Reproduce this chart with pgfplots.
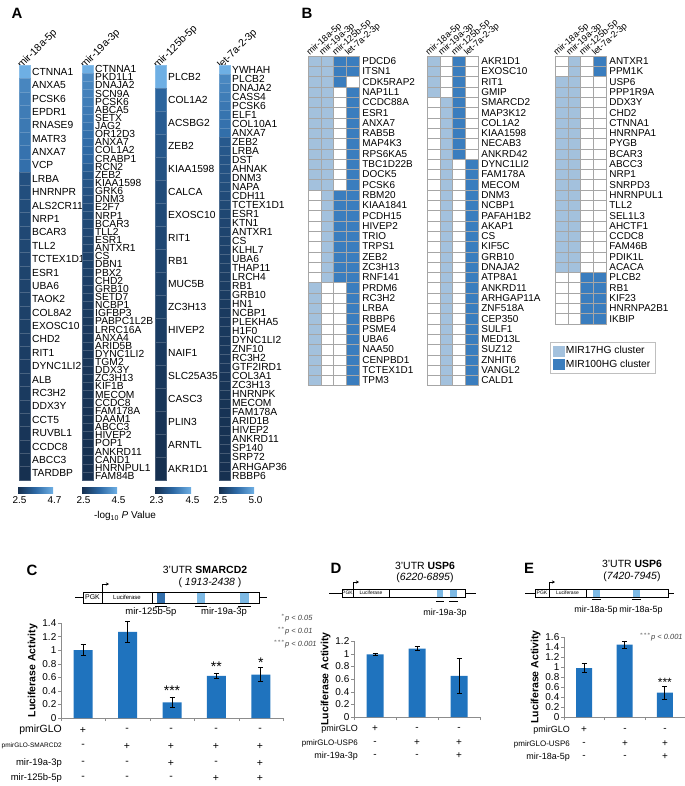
\documentclass[border=0pt]{standalone}
\usepackage{fontspec}
\setmainfont{Liberation Sans}
\usepackage{pgfplots}
\usepackage{pgfplotstable}
\pgfplotsset{compat=1.18}
\usetikzlibrary{arrows.meta}

\definecolor{barblue}{RGB}{31,115,190}
\definecolor{cllight}{RGB}{163,193,221}
\definecolor{cldark}{RGB}{58,125,190}
\definecolor{hmdark}{RGB}{22,48,80}
\definecolor{hmmid}{RGB}{45,105,165}
\definecolor{hmlight}{RGB}{110,175,228}
\definecolor{sitelight}{RGB}{125,185,228}
\definecolor{sitedark}{RGB}{50,110,170}

\newcommand{\fs}[1]{\fontsize{#1}{#1}\selectfont}

% panel A: -log10 P values, one table per miRNA (row r, top row first)
\pgfplotstableread{
r v
1 4.7
2 4.05
3 3.95
4 3.9
5 3.85
6 3.8
7 3.75
8 3.7
9 3.12
10 3.08
11 3.04
12 3.0
13 2.97
14 2.94
15 2.91
16 2.88
17 2.86
18 2.84
19 2.82
20 2.8
21 2.78
22 2.76
23 2.74
24 2.72
25 2.69
26 2.66
27 2.63
28 2.6
29 2.56
30 2.53
31 2.5
}\hmA
\pgfplotstableread{
r v
1 4.5
2 3.95
3 3.9
4 3.85
5 3.8
6 3.75
7 3.7
8 3.65
9 3.6
10 3.55
11 3.5
12 3.45
13 3.3
14 3.2
15 3.15
16 3.1
17 3.05
18 3.0
19 2.97
20 2.94
21 2.91
22 2.88
23 2.85
24 2.83
25 2.81
26 2.79
27 2.77
28 2.75
29 2.73
30 2.71
31 2.69
32 2.67
33 2.66
34 2.65
35 2.64
36 2.63
37 2.62
38 2.61
39 2.6
40 2.59
41 2.58
42 2.57
43 2.56
44 2.55
45 2.54
46 2.53
47 2.52
48 2.51
49 2.51
50 2.5
51 2.5
}\hmB
\pgfplotstableread{
r v
1 4.5
2 3.3
3 3.15
4 3.05
5 2.95
6 2.85
7 2.8
8 2.75
9 2.7
10 2.65
11 2.6
12 2.55
13 2.5
14 2.46
15 2.42
16 2.38
17 2.34
18 2.3
}\hmC
\pgfplotstableread{
r v
1 5.0
2 4.3
3 4.2
4 4.1
5 4.0
6 3.95
7 3.9
8 3.85
9 3.4
10 3.35
11 3.3
12 3.25
13 3.2
14 3.15
15 3.1
16 3.05
17 3.0
18 2.97
19 2.94
20 2.91
21 2.88
22 2.85
23 2.82
24 2.8
25 2.78
26 2.76
27 2.74
28 2.72
29 2.7
30 2.69
31 2.68
32 2.67
33 2.66
34 2.64
35 2.62
36 2.6
37 2.59
38 2.58
39 2.57
40 2.56
41 2.55
42 2.54
43 2.53
44 2.52
45 2.51
46 2.5
}\hmD

% panel B: 0 none, 1 MIR17HG cluster, 2 MIR100HG cluster
\pgfplotstableread{
r a b c d
1 1 1 2 2
2 1 1 2 2
3 1 1 2 0
4 1 1 0 2
5 1 1 0 2
6 1 1 0 2
7 1 1 0 2
8 1 1 0 2
9 1 1 0 2
10 1 1 0 2
11 1 1 0 2
12 1 1 0 2
13 1 1 0 2
14 0 1 2 2
15 0 1 2 2
16 0 1 2 2
17 0 1 2 2
18 0 1 2 2
19 0 1 2 2
20 0 1 2 2
21 0 1 2 2
22 0 1 2 2
23 1 0 0 2
24 1 0 0 2
25 1 0 0 2
26 1 0 0 2
27 1 0 0 2
28 1 0 0 2
29 1 0 0 2
30 1 0 0 2
31 1 0 0 2
32 1 0 0 2
}\gridA
\pgfplotstableread{
r a b c d
1 1 0 2 0
2 1 0 2 0
3 1 0 2 0
4 1 0 2 0
5 0 1 2 0
6 0 1 2 0
7 0 1 2 0
8 0 1 2 0
9 0 1 2 0
10 0 1 2 0
11 0 1 0 2
12 0 1 0 2
13 0 1 0 2
14 0 1 0 2
15 0 1 0 2
16 0 1 0 2
17 0 1 0 2
18 0 1 0 2
19 0 1 0 2
20 0 1 0 2
21 0 1 0 2
22 0 1 0 2
23 0 1 0 2
24 0 1 0 2
25 0 1 0 2
26 0 1 0 2
27 0 1 0 2
28 0 1 0 2
29 0 1 0 2
30 0 1 0 2
31 0 1 0 2
32 0 1 0 2
}\gridB
\pgfplotstableread{
r a b c d
1 0 1 0 2
2 0 1 0 2
3 1 1 0 0
4 1 1 0 0
5 1 1 0 0
6 1 1 0 0
7 1 1 0 0
8 1 1 0 0
9 1 1 0 0
10 1 1 0 0
11 1 1 0 0
12 1 1 0 0
13 1 1 0 0
14 1 1 0 0
15 1 1 0 0
16 1 1 0 0
17 1 1 0 0
18 1 1 0 0
19 1 1 0 0
20 1 1 0 0
21 1 1 0 0
22 0 0 2 2
23 0 0 2 2
24 0 0 2 2
25 0 0 2 2
26 0 0 2 2
}\gridC

\pgfplotsset{
  hmcol/.style={scale only axis, width=11bp, xmin=-0.5, xmax=0.5,
    y dir=reverse, clip=false, axis line style={draw=none},
    major tick length=0pt, yticklabel pos=right,
    yticklabel style={font=\fs{10.3}, anchor=west, inner sep=0pt, xshift=2bp},
    xtick={0}, xticklabel pos=upper,
    xticklabel style={font=\fs{10.5}, rotate=45, anchor=south west, inner sep=0pt, xshift=-5bp, yshift=-3bp},
    colormap={heat}{rgb255=(22,48,80) rgb255=(45,105,165) rgb255=(110,175,228)}},
  hmcell/.style={scatter, only marks, mark=square*, point meta=explicit,
    scatter/use mapped color={draw=mapped color!80!white, fill=mapped color}},
  bgrid/.style={scale only axis, width=51.2bp, xmin=0.5, xmax=4.5,
    y dir=reverse, clip=false, axis line style={draw=none},
    major tick length=0pt, ytick={1,...,40}, yticklabel pos=right,
    yticklabel style={font=\fs{10}, anchor=west, inner sep=0pt, xshift=3bp},
    xtick={1,2,3,4}, xticklabel pos=upper,
    xticklabels={mir-18a-5p,mir-19a-3p,mir-125b-5p,let-7a-2-3p},
    xticklabel style={font=\fs{9}, rotate=42, anchor=south west, inner sep=0pt, yshift=1bp, xshift=-3.5bp},
    point meta min=0, point meta max=2,
    colormap={bin}{rgb255=(255,255,255) rgb255=(163,193,221) rgb255=(58,125,190)}},
  bcell/.style={scatter, only marks, mark=square*, point meta=explicit,
    mark size=6.4bp, mark options={yscale=0.805, line width=0.4bp},
    scatter/use mapped color={draw=black!35, fill=mapped color}},
  barax/.style={scale only axis, axis x line=bottom, axis y line=left,
    axis line style={black!45, -}, tick style={black!45}, tick align=outside,
    major tick length=3bp, xticklabels={}, ymin=0, clip=false,
    /pgf/number format/assume math mode=true,
    yticklabel style={font=\fs{10}, inner sep=1.5bp},
    ylabel={Luciferase Activity}, ylabel style={font=\bfseries\fs{10.5}}},
  barplot/.style={ybar, fill=barblue, draw=none,
    error bars/y dir=both, error bars/y explicit,
    error bars/error bar style={black, line width=0.7bp},
    error bars/error mark options={rotate=90, mark size=2.5bp, black, line width=0.7bp}},
}

\begin{document}
\begin{tikzpicture}
\useasboundingbox (0,0) rectangle (685bp,-786bp);

% ---------------- Panel A ----------------
\begin{axis}[hmcol, at={(19bp,-65bp)}, anchor=north west, height=415bp,
  ymin=0.5, ymax=31.5, point meta min=2.5, point meta max=4.7, ytick={1,...,31},
  xticklabels={mir-18a-5p},
  yticklabels={CTNNA1,ANXA5,PCSK6,EPDR1,RNASE9,MATR3,ANXA7,VCP,LRBA,HNRNPR,ALS2CR11,NRP1,BCAR3,TLL2,TCTEX1D1,ESR1,UBA6,TAOK2,COL8A2,EXOSC10,CHD2,RIT1,DYNC1LI2,ALB,RC3H2,DDX3Y,CCT5,RUVBL1,CCDC8,ABCC3,TARDBP}]
\addplot[hmcell, mark size=5.5bp, mark options={yscale=1.217, line width=0.3bp}]
  table[x expr=0, y=r, meta=v] {\hmA};
\end{axis}

\begin{axis}[hmcol, at={(82bp,-65bp)}, anchor=north west, height=415bp,
  ymin=0.5, ymax=51.5, point meta min=2.5, point meta max=4.5, ytick={1,...,51},
  xticklabels={mir-19a-3p},
  yticklabels={CTNNA1,PKD1L1,DNAJA2,SCN9A,PCSK6,ABCA5,SETX,JAG2,OR12D3,ANXA7,COL1A2,CRABP1,RCN2,ZEB2,KIAA1598,GRK6,DNM3,E2F7,NRP1,BCAR3,TLL2,ESR1,ANTXR1,CS,DBN1,PBX2,CHD2,GRB10,SETD7,NCBP1,IGFBP3,PABPC1L2B,LRRC16A,ANXA4,ARID5B,DYNC1LI2,TGM2,DDX3Y,ZC3H13,KIF1B,MECOM,CCDC8,FAM178A,DAAM1,ABCC3,HIVEP2,POP1,ANKRD11,CAND1,HNRNPUL1,FAM84B}]
\addplot[hmcell, mark size=5.5bp, mark options={yscale=0.74, line width=0.3bp}]
  table[x expr=0, y=r, meta=v] {\hmB};
\end{axis}

\begin{axis}[hmcol, at={(155bp,-65bp)}, anchor=north west, height=415bp,
  ymin=0.5, ymax=18.5, point meta min=2.3, point meta max=4.5, ytick={1,...,18},
  xticklabels={mir-125b-5p},
  yticklabels={PLCB2,COL1A2,ACSBG2,ZEB2,KIAA1598,CALCA,EXOSC10,RIT1,RB1,MUC5B,ZC3H13,HIVEP2,NAIF1,SLC25A35,CASC3,PLIN3,ARNTL,AKR1D1}]
\addplot[hmcell, mark size=5.5bp, mark options={yscale=2.096, line width=0.3bp}]
  table[x expr=0, y=r, meta=v] {\hmC};
\end{axis}

\begin{axis}[hmcol, at={(219bp,-65bp)}, anchor=north west, height=415bp,
  ymin=0.5, ymax=46.5, point meta min=2.5, point meta max=5.0, ytick={1,...,46},
  xticklabels={let-7a-2-3p},
  yticklabels={YWHAH,PLCB2,DNAJA2,CASS4,PCSK6,ELF1,COL10A1,ANXA7,ZEB2,LRBA,DST,AHNAK,DNM3,NAPA,CDH11,TCTEX1D1,ESR1,KTN1,ANTXR1,CS,KLHL7,UBA6,THAP11,LRCH4,RB1,GRB10,HN1,NCBP1,PLEKHA5,H1F0,DYNC1LI2,ZNF10,RC3H2,GTF2IRD1,COL3A1,ZC3H13,HNRNPK,MECOM,FAM178A,ARID1B,HIVEP2,ANKRD11,SP140,SRP72,ARHGAP36,RBBP6}]
\addplot[hmcell, mark size=5.5bp, mark options={yscale=0.82, line width=0.3bp}]
  table[x expr=0, y=r, meta=v] {\hmD};
\end{axis}

% ---------------- Panel B ----------------
\begin{axis}[bgrid, at={(308bp,-56bp)}, anchor=north west, height=329.6bp,
  ymin=0.5, ymax=32.5,
  yticklabels={PDCD6,ITSN1,CDK5RAP2,NAP1L1,CCDC88A,ESR1,ANXA7,RAB5B,MAP4K3,RPS6KA5,TBC1D22B,DOCK5,PCSK6,RBM20,KIAA1841,PCDH15,HIVEP2,TRIO,TRPS1,ZEB2,ZC3H13,RNF141,PRDM6,RC3H2,LRBA,RBBP6,PSME4,UBA6,NAA50,CENPBD1,TCTEX1D1,TPM3}]
\addplot[bcell] table[x expr=1, y=r, meta=a] {\gridA};
\addplot[bcell] table[x expr=2, y=r, meta=b] {\gridA};
\addplot[bcell] table[x expr=3, y=r, meta=c] {\gridA};
\addplot[bcell] table[x expr=4, y=r, meta=d] {\gridA};
\end{axis}

\begin{axis}[bgrid, at={(427bp,-56bp)}, anchor=north west, height=329.6bp,
  ymin=0.5, ymax=32.5,
  yticklabels={AKR1D1,EXOSC10,RIT1,GMIP,SMARCD2,MAP3K12,COL1A2,KIAA1598,NECAB3,ANKRD42,DYNC1LI2,FAM178A,MECOM,DNM3,NCBP1,PAFAH1B2,AKAP1,CS,KIF5C,GRB10,DNAJA2,ATP8A1,ANKRD11,ARHGAP11A,ZNF518A,CEP350,SULF1,MED13L,SUZ12,ZNHIT6,VANGL2,CALD1}]
\addplot[bcell] table[x expr=1, y=r, meta=a] {\gridB};
\addplot[bcell] table[x expr=2, y=r, meta=b] {\gridB};
\addplot[bcell] table[x expr=3, y=r, meta=c] {\gridB};
\addplot[bcell] table[x expr=4, y=r, meta=d] {\gridB};
\end{axis}

\begin{axis}[bgrid, at={(555bp,-56bp)}, anchor=north west, height=267.8bp,
  ymin=0.5, ymax=26.5,
  yticklabels={ANTXR1,PPM1K,USP6,PPP1R9A,DDX3Y,CHD2,CTNNA1,HNRNPA1,PYGB,BCAR3,ABCC3,NRP1,SNRPD3,HNRNPUL1,TLL2,SEL1L3,AHCTF1,CCDC8,FAM46B,PDIK1L,ACACA,PLCB2,RB1,KIF23,HNRNPA2B1,IKBIP},
  legend style={at={(-0.1,-0.067)}, anchor=north west, draw=black!25,
    font=\fs{10.3}, inner sep=2.5bp, row sep=0.5bp},
  legend cell align=left]
\addplot[bcell, forget plot] table[x expr=1, y=r, meta=a] {\gridC};
\addplot[bcell, forget plot] table[x expr=2, y=r, meta=b] {\gridC};
\addplot[bcell, forget plot] table[x expr=3, y=r, meta=c] {\gridC};
\addplot[bcell, forget plot] table[x expr=4, y=r, meta=d] {\gridC};
\addlegendimage{legend image code/.code={\fill[cllight] (0bp,-5bp) rectangle (11bp,5bp);}}
\addlegendentry{MIR17HG cluster}
\addlegendimage{legend image code/.code={\fill[cldark] (0bp,-5bp) rectangle (11bp,5bp);}}
\addlegendentry{ MIR100HG cluster}
\end{axis}

% ---------------- Panel C ----------------
\begin{axis}[barax, at={(61bp,-718bp)}, anchor=south west, width=222bp, height=95bp,
  xmin=0.5, xmax=5.5, ymax=1.4, ytick={0,0.2,0.4,0.6,0.8,1,1.2,1.4},
  xtick={0.5,1.5,2.5,3.5,4.5,5.5}]
\addplot[bar width=19bp, barplot] coordinates {
  (1,1.00) +- (0,0.08)
  (2,1.27) +- (0,0.15)
  (3,0.23) +- (0,0.08)
  (4,0.62) +- (0,0.04)
  (5,0.64) +- (0,0.10)};
\node[font=\fs{14}] at (axis cs:3,0.40) {***};
\node[font=\fs{14}] at (axis cs:4,0.76) {**};
\node[font=\fs{14}] at (axis cs:5,0.81) {*};
\end{axis}

% ---------------- Panel D ----------------
\begin{axis}[barax, at={(354bp,-717bp)}, anchor=south west, width=126bp, height=76bp,
  xmin=0.5, xmax=3.5, ymax=1.2, ytick={0,0.2,0.4,0.6,0.8,1,1.2},
  xtick={0.5,1.5,2.5,3.5}]
\addplot[bar width=17bp, barplot] coordinates {
  (1,0.99) +- (0,0.02)
  (2,1.08) +- (0,0.03)
  (3,0.65) +- (0,0.27)};
\end{axis}

% ---------------- Panel E ----------------
\begin{axis}[barax, at={(564bp,-717bp)}, anchor=south west, width=121bp, height=80bp,
  xmin=0.5, xmax=3.5, ymax=1.6, ytick={0,0.2,0.4,0.6,0.8,1,1.2,1.4,1.6},
  xtick={0.5,1.5,2.5,3.5}]
\addplot[bar width=16bp, barplot] coordinates {
  (1,0.98) +- (0,0.09)
  (2,1.45) +- (0,0.07)
  (3,0.49) +- (0,0.13)};
\node[font=\fs{12}] at (axis cs:3,0.70) {***};
\end{axis}

% ---------------- text and schematics ----------------
\begin{scope}[x=1bp, y=-1bp]
  % panel letters
  \node[font=\bfseries\fs{15}] at (17,13) {A};
  \node[font=\bfseries\fs{15}] at (307,13) {B};
  \node[font=\bfseries\fs{15}] at (32,570) {C};
  \node[font=\bfseries\fs{15}] at (336,568) {D};
  \node[font=\bfseries\fs{15}] at (529,568) {E};

  % panel A colour bars
  \foreach \a/\b/\lo/\hi in {18/53/2.5/4.7, 82/117/2.5/4.5, 155/191/2.3/4.5, 219/254/2.5/5.0} {
    \shade[left color=hmdark, right color=hmlight, middle color=hmmid] (\a,487) rectangle (\b,493);
    \node[font=\fs{10}] at (\a+1.5,500) {\lo};
    \node[font=\fs{10}] at (\b+1.5,500) {\hi};
  }
  \node[font=\fs{10}] at (125,516) {-log\textsubscript{10} \textit{P} Value};

  % panel C schematic
  \node[font=\fs{10.5}] at (205,570) {3'UTR \textbf{SMARCD2}};
  \node[font=\fs{10.5}] at (210,583) {( \textit{1913-2438} )};
  \begin{scope}[line width=0.6bp]
    \draw (75,597.5) -- (83,597.5);
    \draw (259,597.5) -- (267,597.5);
    \fill[sitedark] (157,592) rectangle (165,603);
    \fill[sitelight] (197,592) rectangle (205,603);
    \fill[sitelight] (240,592) rectangle (249,603);
    \draw (83,592) rectangle (259,603);
    \draw (102,592) -- (102,603);
    \draw (152,592) -- (152,603);
    \draw[-{Stealth[length=3bp,width=3bp]}] (102,592) -- (102,584) -- (109,584);
    \draw (155,606) -- (167,606);
    \draw (195,606) -- (207,606);
    \draw (238,606) -- (251,606);
  \end{scope}
  \node[font=\fs{7}] at (92.5,597.5) {PGK};
  \node[font=\fs{6}] at (127,597.5) {Luciferase};
  \node[font=\fs{9.5}] at (151,612) {mir-125b-5p};
  \node[font=\fs{9.5}] at (224,612) {mir-19a-3p};
  \node[font=\itshape\fs{7.5}, anchor=base west, inner sep=0pt, text=black!75] at (285,620) {\llap{$^{*}$}p < 0.05};
  \node[font=\itshape\fs{7.5}, anchor=base west, inner sep=0pt, text=black!75] at (285,633) {\llap{$^{**}$}p < 0.01};
  \node[font=\itshape\fs{7.5}, anchor=base west, inner sep=0pt, text=black!75] at (285,646) {\llap{$^{***}$}p < 0.001};

  % panel C conditions
  \node[font=\fs{10.5}, anchor=east, inner sep=0pt] at (62,730) {pmirGLO};
  \node[font=\fs{6.5}, anchor=east, inner sep=0pt] at (62,746) {pmirGLO-SMARCD2};
  \node[font=\fs{9.5}, anchor=east, inner sep=0pt] at (62,763) {mir-19a-3p};
  \node[font=\fs{9.5}, anchor=east, inner sep=0pt] at (62,778) {mir-125b-5p};
  \foreach \x/\a/\b/\c/\d in {83/+/-/-/-, 127/-/+/-/-, 171/-/+/+/-, 216/-/+/-/+, 260/-/+/+/+} {
    \node[font=\fs{10.5}] at (\x,730) {\a};
    \node[font=\fs{10.5}] at (\x,746) {\b};
    \node[font=\fs{10.5}] at (\x,763) {\c};
    \node[font=\fs{10.5}] at (\x,778) {\d};
  }

  % panel D schematic
  \node[font=\fs{10.5}] at (425,566) {3'UTR \textbf{USP6}};
  \node[font=\fs{10.5}] at (425,578) {(\textit{6220-6895})};
  \begin{scope}[line width=0.6bp]
    \draw (329,593) -- (342,593);
    \draw (465,593) -- (476,593);
    \fill[sitelight] (437,589) rectangle (443,597);
    \fill[sitelight] (450,589) rectangle (457,597);
    \draw (342,589) rectangle (465,597);
    \draw (353,589) -- (353,597);
    \draw (389,589) -- (389,597);
    \draw[-{Stealth[length=3bp,width=3bp]}] (353,589) -- (353,582) -- (359,582);
    \draw (436,601) -- (444,601);
    \draw (449,601) -- (458,601);
  \end{scope}
  \node[font=\fs{5}] at (347.5,593) {PGK};
  \node[font=\fs{5}] at (371,593) {Luciferase};
  \node[font=\fs{9}] at (445,613) {mir-19a-3p};
  \node[font=\fs{9}, anchor=east, inner sep=0pt] at (358,729) {pmirGLO};
  \node[font=\fs{8}, anchor=east, inner sep=0pt] at (358,743) {pmirGLO-USP6};
  \node[font=\fs{9}, anchor=east, inner sep=0pt] at (358,756) {mir-19a-3p};
  \foreach \x/\a/\b/\c in {375/+/-/-, 417/-/+/-, 459/-/+/+} {
    \node[font=\fs{10}] at (\x,729) {\a};
    \node[font=\fs{10}] at (\x,743) {\b};
    \node[font=\fs{10}] at (\x,756) {\c};
  }

  % panel E schematic
  \node[font=\fs{10.5}] at (632,564) {3'UTR \textbf{USP6}};
  \node[font=\fs{10.5}] at (632,577) {(\textit{7420-7945})};
  \begin{scope}[line width=0.6bp]
    \draw (525,593) -- (535,593);
    \draw (668,593) -- (674,593);
    \fill[sitelight] (593,589) rectangle (600,597);
    \fill[sitelight] (633,589) rectangle (640,597);
    \draw (535,589) rectangle (668,597);
    \draw (549,589) -- (549,597);
    \draw (586,589) -- (586,597);
    \draw[-{Stealth[length=3bp,width=3bp]}] (549,589) -- (549,582) -- (555,582);
    \draw (592,599.5) -- (601,599.5);
    \draw (632,599.5) -- (641,599.5);
  \end{scope}
  \node[font=\fs{5}] at (542,593) {PGK};
  \node[font=\fs{5}] at (567.5,593) {Luciferase};
  \node[font=\fs{9}] at (596,610) {mir-18a-5p};
  \node[font=\fs{9}] at (641,610) {mir-18a-5p};
  \node[font=\itshape\fs{7.5}, anchor=base west, inner sep=0pt, text=black!75] at (651,639) {\llap{$^{***}$}p < 0.001};
  \node[font=\fs{9}, anchor=east, inner sep=0pt] at (570,730) {pmirGLO};
  \node[font=\fs{8}, anchor=east, inner sep=0pt] at (570,744) {pmirGLO-USP6};
  \node[font=\fs{9}, anchor=east, inner sep=0pt] at (570,757) {mir-18a-5p};
  \foreach \x/\a/\b/\c in {584/+/-/-, 625/-/+/-, 665/-/+/+} {
    \node[font=\fs{10}] at (\x,730) {\a};
    \node[font=\fs{10}] at (\x,744) {\b};
    \node[font=\fs{10}] at (\x,757) {\c};
  }
\end{scope}
\end{tikzpicture}
\end{document}
